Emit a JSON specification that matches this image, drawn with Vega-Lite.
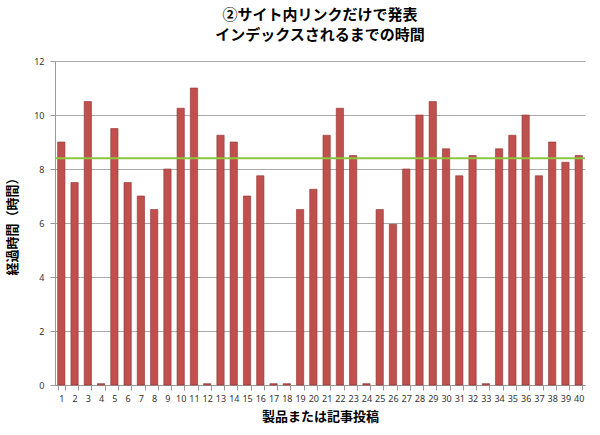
{
  "$schema": "https://vega.github.io/schema/vega-lite/v6.json",
  "autosize": {"type": "fit", "contains": "padding"},
  "width": 600,
  "height": 435,
  "padding": {"left": 6, "top": 8, "right": 14, "bottom": 12},
  "background": "white",
  "title": {
    "text": ["②サイト内リンクだけで発表", "インデックスされるまでの時間"],
    "font": "Noto Sans CJK JP",
    "fontSize": 15,
    "fontWeight": "bold",
    "color": "#000000",
    "lineHeight": 20,
    "anchor": "middle",
    "offset": 14
  },
  "config": {
    "view": {"stroke": null},
    "axis": {"labelFont": "Noto Sans", "titleFont": "Noto Sans CJK JP"}
  },
  "datasets": {
    "bars": [
      {"item": "1", "hours": 9.0}, {"item": "2", "hours": 7.5}, {"item": "3", "hours": 10.5},
      {"item": "4", "hours": 0.05}, {"item": "5", "hours": 9.5}, {"item": "6", "hours": 7.5},
      {"item": "7", "hours": 7.0}, {"item": "8", "hours": 6.5}, {"item": "9", "hours": 8.0},
      {"item": "10", "hours": 10.25}, {"item": "11", "hours": 11.0}, {"item": "12", "hours": 0.05},
      {"item": "13", "hours": 9.25}, {"item": "14", "hours": 9.0}, {"item": "15", "hours": 7.0},
      {"item": "16", "hours": 7.75}, {"item": "17", "hours": 0.05}, {"item": "18", "hours": 0.05},
      {"item": "19", "hours": 6.5}, {"item": "20", "hours": 7.25}, {"item": "21", "hours": 9.25},
      {"item": "22", "hours": 10.25}, {"item": "23", "hours": 8.5}, {"item": "24", "hours": 0.05},
      {"item": "25", "hours": 6.5}, {"item": "26", "hours": 5.95}, {"item": "27", "hours": 8.0},
      {"item": "28", "hours": 10.0}, {"item": "29", "hours": 10.5}, {"item": "30", "hours": 8.75},
      {"item": "31", "hours": 7.75}, {"item": "32", "hours": 8.5}, {"item": "33", "hours": 0.05},
      {"item": "34", "hours": 8.75}, {"item": "35", "hours": 9.25}, {"item": "36", "hours": 10.0},
      {"item": "37", "hours": 7.75}, {"item": "38", "hours": 9.0}, {"item": "39", "hours": 8.25},
      {"item": "40", "hours": 8.5}
    ],
    "avg": [{"hours": 8.4}]
  },
  "layer": [
    {
      "data": {"name": "bars"},
      "mark": {"type": "bar", "color": "#C0504D", "stroke": "#8E3431", "strokeWidth": 0.6},
      "encoding": {
        "x": {
          "field": "item",
          "type": "ordinal",
          "sort": null,
          "scale": {"paddingInner": 0.45, "paddingOuter": 0.2},
          "axis": {
            "title": "製品または記事投稿",
            "titleFontSize": 13,
            "titleFontWeight": "bold",
            "titleColor": "#000000",
            "titlePadding": 7,
            "labelAngle": 0,
            "labelFontSize": 9,
            "labelColor": "#333333",
            "labelPadding": 4,
            "tickBand": "extent",
            "tickColor": "#999999",
            "tickSize": 5,
            "domainColor": "#999999",
            "grid": false
          }
        },
        "y": {
          "field": "hours",
          "type": "quantitative",
          "scale": {"domain": [0, 12]},
          "axis": {
            "title": "経過時間（時間）",
            "titleFontSize": 13,
            "titleFontWeight": "bold",
            "titleColor": "#000000",
            "titlePadding": 14,
            "values": [0, 2, 4, 6, 8, 10, 12],
            "labelFontSize": 9,
            "labelColor": "#333333",
            "labelPadding": 6,
            "tickColor": "#999999",
            "tickSize": 5,
            "domainColor": "#999999",
            "gridColor": "#AAAAAA",
            "gridWidth": 1
          }
        }
      }
    },
    {
      "data": {"name": "avg"},
      "mark": {"type": "rule", "color": "#8CC63F", "strokeWidth": 2},
      "encoding": {"y": {"field": "hours", "type": "quantitative"}}
    }
  ]
}
